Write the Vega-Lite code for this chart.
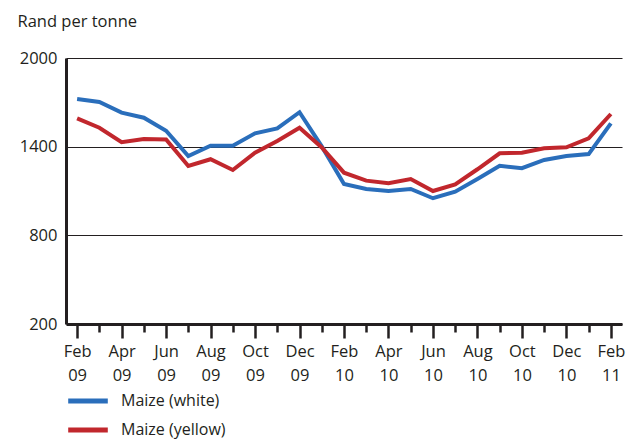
{
  "$schema": "https://vega.github.io/schema/vega-lite/v6.json",
  "width": 556,
  "height": 266,
  "autosize": {"type": "none"},
  "padding": {"left": 66, "top": 58, "right": 11, "bottom": 115},
  "background": "white",
  "config": {
    "view": {"stroke": null},
    "font": "Open Sans",
    "axis": {"labelFont": "Open Sans", "titleFont": "Open Sans", "labelColor": "#231f20", "titleColor": "#231f20"}
  },
  "data": {
    "values": [
      {"month": "Feb 09", "series": "Maize (white)", "price": 1722},
      {"month": "Feb 09", "series": "Maize (yellow)", "price": 1592},
      {"month": "Mar 09", "series": "Maize (white)", "price": 1702},
      {"month": "Mar 09", "series": "Maize (yellow)", "price": 1528},
      {"month": "Apr 09", "series": "Maize (white)", "price": 1630},
      {"month": "Apr 09", "series": "Maize (yellow)", "price": 1430},
      {"month": "May 09", "series": "Maize (white)", "price": 1596},
      {"month": "May 09", "series": "Maize (yellow)", "price": 1452},
      {"month": "Jun 09", "series": "Maize (white)", "price": 1508},
      {"month": "Jun 09", "series": "Maize (yellow)", "price": 1448},
      {"month": "Jul 09", "series": "Maize (white)", "price": 1337},
      {"month": "Jul 09", "series": "Maize (yellow)", "price": 1269},
      {"month": "Aug 09", "series": "Maize (white)", "price": 1407},
      {"month": "Aug 09", "series": "Maize (yellow)", "price": 1315},
      {"month": "Sep 09", "series": "Maize (white)", "price": 1407},
      {"month": "Sep 09", "series": "Maize (yellow)", "price": 1242},
      {"month": "Oct 09", "series": "Maize (white)", "price": 1490},
      {"month": "Oct 09", "series": "Maize (yellow)", "price": 1359},
      {"month": "Nov 09", "series": "Maize (white)", "price": 1524},
      {"month": "Nov 09", "series": "Maize (yellow)", "price": 1438},
      {"month": "Dec 09", "series": "Maize (white)", "price": 1633},
      {"month": "Dec 09", "series": "Maize (yellow)", "price": 1528},
      {"month": "Jan 10", "series": "Maize (white)", "price": 1402},
      {"month": "Jan 10", "series": "Maize (yellow)", "price": 1395},
      {"month": "Feb 10", "series": "Maize (white)", "price": 1147},
      {"month": "Feb 10", "series": "Maize (yellow)", "price": 1224},
      {"month": "Mar 10", "series": "Maize (white)", "price": 1114},
      {"month": "Mar 10", "series": "Maize (yellow)", "price": 1170},
      {"month": "Apr 10", "series": "Maize (white)", "price": 1100},
      {"month": "Apr 10", "series": "Maize (yellow)", "price": 1152},
      {"month": "May 10", "series": "Maize (white)", "price": 1114},
      {"month": "May 10", "series": "Maize (yellow)", "price": 1181},
      {"month": "Jun 10", "series": "Maize (white)", "price": 1051},
      {"month": "Jun 10", "series": "Maize (yellow)", "price": 1100},
      {"month": "Jul 10", "series": "Maize (white)", "price": 1095},
      {"month": "Jul 10", "series": "Maize (yellow)", "price": 1145},
      {"month": "Aug 10", "series": "Maize (white)", "price": 1181},
      {"month": "Aug 10", "series": "Maize (yellow)", "price": 1247},
      {"month": "Sep 10", "series": "Maize (white)", "price": 1271},
      {"month": "Sep 10", "series": "Maize (yellow)", "price": 1355},
      {"month": "Oct 10", "series": "Maize (white)", "price": 1254},
      {"month": "Oct 10", "series": "Maize (yellow)", "price": 1359},
      {"month": "Nov 10", "series": "Maize (white)", "price": 1310},
      {"month": "Nov 10", "series": "Maize (yellow)", "price": 1389},
      {"month": "Dec 10", "series": "Maize (white)", "price": 1337},
      {"month": "Dec 10", "series": "Maize (yellow)", "price": 1396},
      {"month": "Jan 11", "series": "Maize (white)", "price": 1350},
      {"month": "Jan 11", "series": "Maize (yellow)", "price": 1457},
      {"month": "Feb 11", "series": "Maize (white)", "price": 1558},
      {"month": "Feb 11", "series": "Maize (yellow)", "price": 1621}
    ]
  },
  "mark": {"type": "line", "strokeWidth": 4, "strokeJoin": "miter"},
  "encoding": {
    "x": {
      "field": "month",
      "type": "ordinal",
      "sort": null,
      "scale": {"type": "point", "padding": 0.5},
      "axis": {
        "title": null,
        "labelAngle": 0,
        "domainColor": "#231f20",
        "domainWidth": 3,
        "tickColor": "#231f20",
        "tickWidth": 2.5,
        "tickSize": {"condition": {"test": "indexof(['Feb','Apr','Jun','Aug','Oct','Dec'], slice(datum.value,0,3)) >= 0", "value": 14}, "value": 8},
        "labelExpr": "indexof(['Feb','Apr','Jun','Aug','Oct','Dec'], slice(datum.value,0,3)) >= 0 ? split(datum.value, ' ') : ''",
        "labelFontSize": 16.5,
        "labelLineHeight": 24,
        "labelBaseline": "top",
        "labelOverlap": false,
        "labelPadding": 5
      }
    },
    "y": {
      "field": "price",
      "type": "quantitative",
      "scale": {"domain": [200, 2000], "nice": false, "zero": false},
      "axis": {
        "values": [200, 800, 1400, 2000],
        "format": "d",
        "ticks": false,
        "labelPadding": 9,
        "labelFontSize": 16.5,
        "domainColor": "#231f20",
        "domainWidth": 3,
        "grid": true,
        "gridColor": "#231f20",
        "gridWidth": 1.2,
        "gridOpacity": 1,
        "title": "Rand per tonne",
        "titleAngle": 0,
        "titleAlign": "left",
        "titleBaseline": "alphabetic",
        "titleFontWeight": "normal",
        "titleFontSize": 16.5,
        "titleX": -49,
        "titleY": -32
      }
    },
    "color": {
      "field": "series",
      "type": "nominal",
      "scale": {"domain": ["Maize (white)", "Maize (yellow)"], "range": ["#2a6ebb", "#c1272d"]},
      "legend": {
        "title": null,
        "orient": "none",
        "legendX": 3,
        "legendY": 324,
        "symbolType": "M-1.2,0H1.2",
        "symbolSize": 1089,
        "symbolStrokeWidth": 5,
        "labelFontSize": 16,
        "labelColor": "#231f20",
        "labelOffset": 14,
        "rowPadding": -7,
        "padding": 0
      }
    }
  }
}
